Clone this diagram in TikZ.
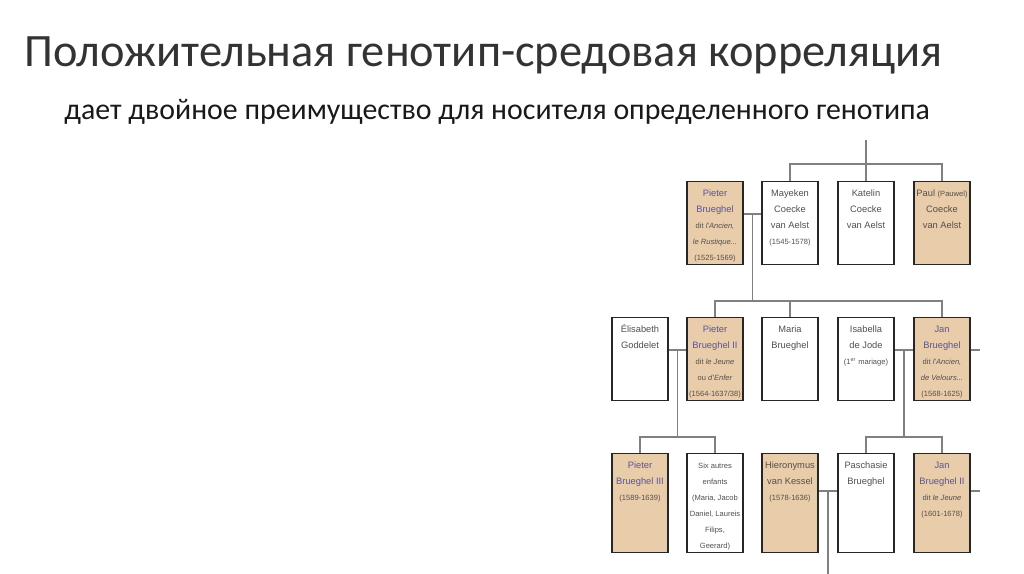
\documentclass[tikz,border=0pt]{standalone}
\usepackage{fontspec}
\setmainfont{Liberation Sans}
\newfontfamily\titlefont{Carlito}
\usetikzlibrary{calc}

\definecolor{tan}{RGB}{233,204,170}
\definecolor{linkblue}{RGB}{85,85,160}
\definecolor{namegray}{RGB}{80,80,80}
\definecolor{linegray}{RGB}{128,128,128}
\newcommand{\bname}[1]{\textcolor{linkblue}{#1}}
\newcommand{\sm}[1]{{\fontsize{4.3pt}{9.07pt}\selectfont #1}}
\newcommand{\famtext}[2]{\parbox[t][#1][t]{11.2mm}{\fontsize{5.3pt}{9.07pt}\selectfont\centering\rule{0pt}{3mm}#2}}

\tikzset{
  person/.style={draw=black!85, line width=0.85pt, fill=white, inner sep=0pt, anchor=north, text=namegray},
  painter/.style={person, fill=tan},
  link/.style={draw=linegray, line width=0.8pt},
}

\begin{document}
\begin{tikzpicture}[x=0.02cm, y=-0.02cm]
    \useasboundingbox (0,0) rectangle (1024,574);
    % titles
    \node[anchor=base west, inner sep=0, text=black!80, font=\titlefont\fontsize{26.4pt}{30pt}\selectfont] (title) at (24,67) {Положительная генотип-средовая корреляция};
    \node[anchor=base west, inner sep=0, text=black!90, font=\titlefont\fontsize{17pt}{20pt}\selectfont] (subtitle) at (64,120) {дает двойное преимущество для носителя определенного генотипа};

    % first generation
    \node[painter] (pieter) at (715,181) {\famtext{16.6mm}{\bname{Pieter}\\\bname{Brueghel}\\\sm{dit \textit{l'Ancien,}}\\\sm{\textit{le Rustique...}}\\\sm{(1525-1569)}}};
    \node[person] (mayeken) at (790,181) {\famtext{16.6mm}{Mayeken\\Coecke\\van Aelst\\\sm{(1545-1578)}}};
    \node[person] (katelin) at (866,181) {\famtext{16.6mm}{Katelin\\Coecke\\van Aelst}};
    \node[painter] (paul) at (942,181) {\famtext{16.6mm}{Paul \sm{(Pauwel)}\\Coecke\\van Aelst}};

    % second generation
    \node[person] (elisabeth) at (640,317) {\famtext{16.6mm}{Élisabeth\\Goddelet}};
    \node[painter] (pieterII) at (715,317) {\famtext{16.6mm}{\bname{Pieter}\\\bname{Brueghel II}\\\sm{dit \textit{le Jeune}}\\\sm{ou \textit{d'Enfer}}\\\sm{(1564-1637/38)}}};
    \node[person] (maria) at (790,317) {\famtext{16.6mm}{Maria\\Brueghel}};
    \node[person] (isabella) at (866,317) {\famtext{16.6mm}{Isabella\\de Jode\\\sm{(1\textsuperscript{er} mariage)}}};
    \node[painter] (jan) at (942,317) {\famtext{16.6mm}{\bname{Jan}\\\bname{Brueghel}\\\sm{dit \textit{l'Ancien,}}\\\sm{\textit{de Velours...}}\\\sm{(1568-1625)}}};

    % third generation
    \node[painter] (pieterIII) at (640,453) {\famtext{19.8mm}{\bname{Pieter}\\\bname{Brueghel III}\\\sm{(1589-1639)}}};
    \node[person] (six) at (715,453) {\famtext{19.8mm}{\sm{Six autres}\\\sm{enfants}\\\sm{(Maria, Jacob}\\\sm{Daniel, Laureis}\\\sm{Filips,}\\\sm{Geerard)}}};
    \node[painter] (hieronymus) at (790,453) {\famtext{19.8mm}{Hieronymus\\van Kessel\\\sm{(1578-1636)}}};
    \node[person] (paschasie) at (866,453) {\famtext{19.8mm}{Paschasie\\Brueghel}};
    \node[painter] (janII) at (942,453) {\famtext{19.8mm}{\bname{Jan}\\\bname{Brueghel II}\\\sm{dit \textit{le Jeune}}\\\sm{(1601-1678)}}};

    % top line
    \coordinate (top) at (866,140);
    \draw[link] (top) -- (katelin.north);
    \draw[link] (mayeken.north) -- ++(0,-17) -| (paul.north);

    % Pieter + Mayeken
    \coordinate (m1) at ($(pieter.north east)!.5!(mayeken.north west)+(0,33)$);
    \coordinate (bar2) at ($(pieterII.north)+(0,-16)$);
    \draw[link] (pieter.east|-m1) -- (mayeken.west|-m1);
    \draw[link] (m1) -- (m1|-bar2);
    \draw[link] (pieterII.north) -- (bar2) -| (jan.north);
    \draw[link] (maria.north) -- (maria.north|-bar2);

    % Elisabeth + Pieter II
    \coordinate (m2) at ($(elisabeth.north east)!.5!(pieterII.north west)+(0,33)$);
    \coordinate (bar3) at ($(pieterIII.north)+(0,-16)$);
    \draw[link] (elisabeth.east|-m2) -- (pieterII.west|-m2);
    \draw[link] (m2) -- (m2|-bar3);
    \draw[link] (pieterIII.north) -- (bar3) -| (six.north);

    % Isabella + Jan
    \coordinate (m3) at ($(isabella.north east)!.5!(jan.north west)+(0,33)$);
    \draw[link] (isabella.east|-m3) -- (jan.west|-m3);
    \draw[link] (m3) -- (m3|-bar3);
    \draw[link] (paschasie.north) -- (paschasie.north|-bar3) -| (janII.north);
    \draw[link] (jan.east|-m3) -- ++(9,0);

    % Hieronymus + Paschasie
    \coordinate (m4) at ($(hieronymus.north east)!.5!(paschasie.north west)+(0,38)$);
    \coordinate (down) at (m4|-0,574);
    \draw[link] (hieronymus.east|-m4) -- (paschasie.west|-m4);
    \draw[link] (m4) -- (down);
    \draw[link] (janII.east|-m4) -- ++(9,0);
\end{tikzpicture}
\end{document}
